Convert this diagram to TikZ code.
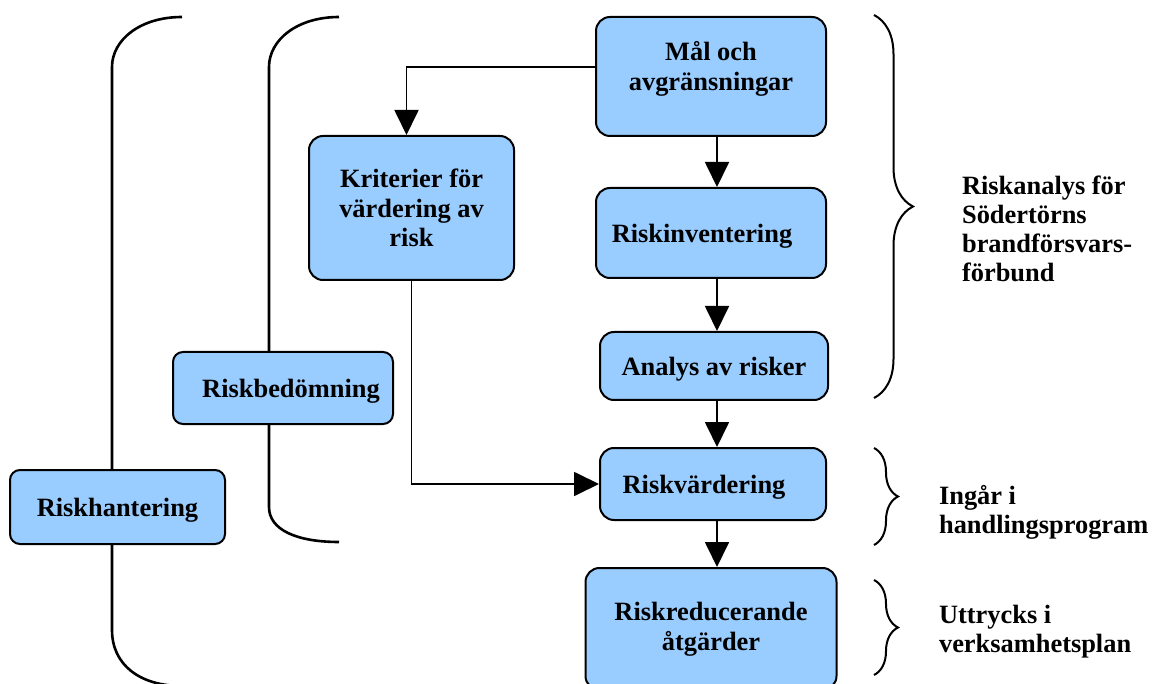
\documentclass[tikz,border=0pt]{standalone}
\usepackage{fontspec}
\setmainfont{Liberation Serif}
\usepackage{tikz}
\usetikzlibrary{arrows.meta, decorations.pathreplacing}
\definecolor{rutaBlå}{HTML}{99CCFF}

\begin{document}
\begin{tikzpicture}[
        x=0.5pt, y=-0.5pt,
        box/.style={draw=black, fill=rutaBlå, line width=1pt, rounded corners=7pt,
            align=center, font=\fontsize{13.2}{14.8}\selectfont\bfseries},
        rad/.style={box, text depth=0pt},
        lbl/.style={anchor=west, align=left, font=\fontsize{13.2}{14.6}\selectfont\bfseries},
        arr/.style={-{Triangle[length=12.5pt,width=12pt]}, line width=0.9pt},
        brk/.style={line width=1.3pt},
        brc/.style={line width=1pt, decorate}
    ]
        \useasboundingbox (0,0) rectangle (1152,684);
        \draw[brk] (182,17) .. controls (140,17) and (112,40) .. (112,67) -- (112,630)
            .. controls (112,665) and (140,686) .. (182,686);
        \draw[brk] (339,17) .. controls (297,17) and (269,40) .. (269,67) -- (269,507)
            .. controls (269,530) and (297,542) .. (339,542);
        \draw[brc, decoration={brace, amplitude=19.5pt}] (874,15) -- (874,398);
        \draw[brc, decoration={brace, amplitude=12pt}] (874,448) -- (874,545);
        \draw[brc, decoration={brace, amplitude=12pt}] (874,580) -- (874,675);

        \node[box, minimum width=115pt, minimum height=59.5pt] (mal) at (711,76.5) {Mål och\\avgränsningar\\[-4pt]};
        \node[rad, minimum width=115pt, minimum height=45pt] (inv) at (711,233) {Riskinventering\hspace{9pt}};
        \node[rad, minimum width=114pt, minimum height=34pt] (ana) at (714,366) {Analys av risker};
        \node[rad, minimum width=113pt, minimum height=36pt] (vard) at (713,484) {Riskvärdering\hspace{9pt}};
        \node[box, minimum width=125.5pt, minimum height=61pt] (red) at (711,629) {Riskreducerande\\åtgärder};
        \node[box, minimum width=102.5pt, minimum height=72pt] (krit) at (411.5,208) {Kriterier för\\värdering av\\risk};
        \node[rad, minimum width=110pt, minimum height=36pt, rounded corners=5pt] (bed) at (283,388) {\hspace{8pt}Riskbedömning};
        \node[rad, minimum width=107.5pt, minimum height=37pt, rounded corners=5pt] (hant) at (117.5,507) {Riskhantering};

        \node[lbl] (ranalys) at (955,229) {Riskanalys för\\Södertörns\\brandförsvars-\\förbund};
        \node[lbl] (ingar) at (932,512) {Ingår i\\handlingsprogram};
        \node[lbl] (uttr) at (932,632) {Uttrycks i\\verksamhetsplan};

        \draw[arr] ([xshift=3pt]mal.south) -- ([xshift=3pt]mal.south |- inv.north);
        \draw[arr] ([xshift=3pt]inv.south) -- ([xshift=3pt]inv.south |- ana.north);
        \draw[arr] ([xshift=3pt]inv.south |- ana.south) -- ([xshift=3pt]inv.south |- vard.north);
        \draw[arr] ([xshift=3pt]inv.south |- vard.south) -- ([xshift=3pt]inv.south |- red.north);
        \draw[arr] ([yshift=4.75pt]mal.west) -| ([xshift=-2.5pt]krit.north);
        \draw[arr] (krit.south) |- (vard.west);
    \end{tikzpicture}
\end{document}
